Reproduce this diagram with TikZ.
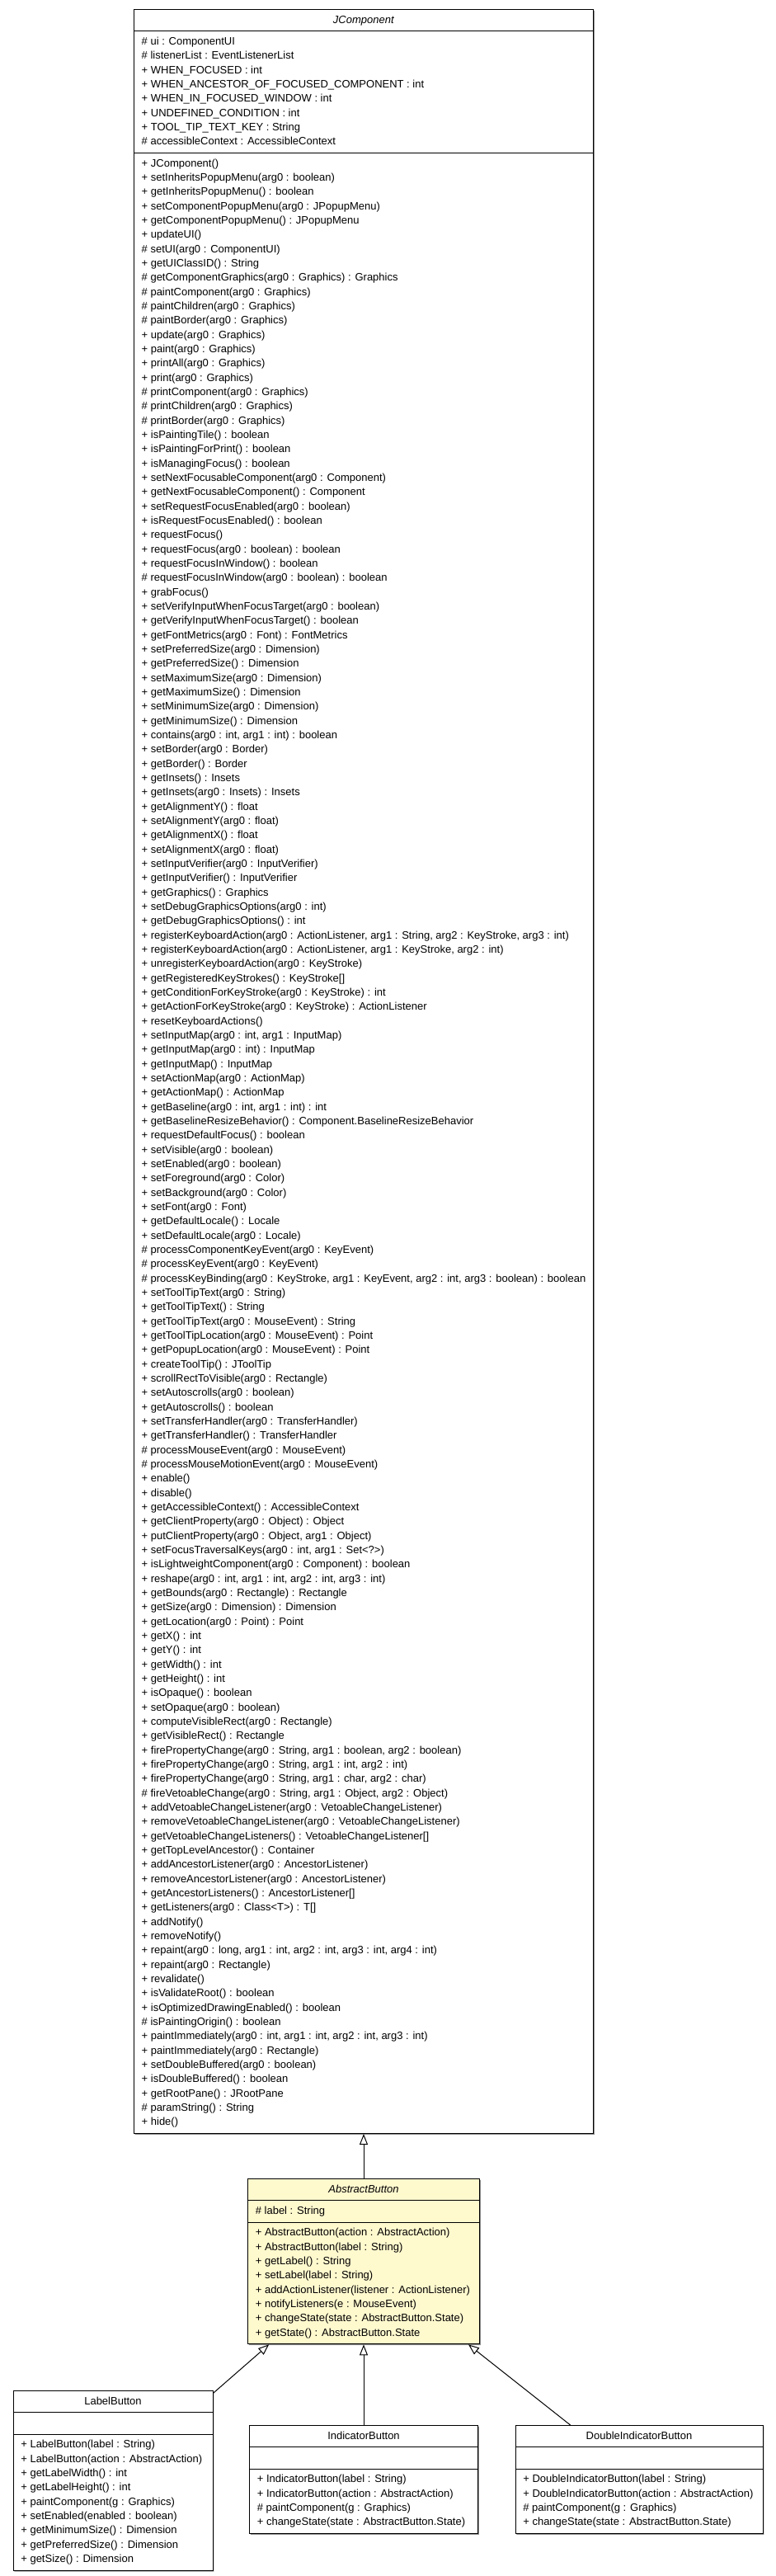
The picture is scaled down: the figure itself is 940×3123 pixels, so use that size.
\documentclass[tikz,border=0pt]{standalone}
\usepackage{fontspec}
\setmainfont{Liberation Sans}
\usetikzlibrary{shapes.multipart,arrows.meta,shadows}

\definecolor{abstractfill}{RGB}{255,249,206}

% one compartment of a class box, one member per row
\newcommand{\members}[1]{\begin{tabular}{@{}l@{}}#1\end{tabular}}

\tikzset{
  classbox/.style={rectangle split, rectangle split parts=3, draw, fill=white,
    line width=0.75pt, anchor=north,
    drop shadow={shadow xshift=1pt, shadow yshift=-1pt, fill=black!45, opacity=1},
    rectangle split part align={center,left,left},
    inner xsep=7pt, inner ysep=3pt, font=\fontsize{9.75}{13}\selectfont},
  inherit/.style={draw, line width=0.75pt, -{Triangle[open, length=9.75pt, width=7.5pt]}}
}

\begin{document}
\begin{tikzpicture}[x=0.75pt, y=-0.75pt]

      \useasboundingbox (0,0) rectangle (940,3123);

      \begin{scope}[every node/.style={classbox}]
        \node[minimum width=415.5pt] (jcomponent) at (441,11) {\strut\textit{JComponent}
          \nodepart{two}\members{\# ui : ComponentUI\\
          \# listenerList : EventListenerList\\
          + WHEN\_FOCUSED : int\\
          + WHEN\_ANCESTOR\_OF\_FOCUSED\_COMPONENT : int\\
          + WHEN\_IN\_FOCUSED\_WINDOW : int\\
          + UNDEFINED\_CONDITION : int\\
          + TOOL\_TIP\_TEXT\_KEY : String\\
          \# accessibleContext : AccessibleContext}
          \nodepart{three}\members{+ JComponent()\\
          + setInheritsPopupMenu(arg0 : boolean)\\
          + getInheritsPopupMenu() : boolean\\
          + setComponentPopupMenu(arg0 : JPopupMenu)\\
          + getComponentPopupMenu() : JPopupMenu\\
          + updateUI()\\
          \# setUI(arg0 : ComponentUI)\\
          + getUIClassID() : String\\
          \# getComponentGraphics(arg0 : Graphics) : Graphics\\
          \# paintComponent(arg0 : Graphics)\\
          \# paintChildren(arg0 : Graphics)\\
          \# paintBorder(arg0 : Graphics)\\
          + update(arg0 : Graphics)\\
          + paint(arg0 : Graphics)\\
          + printAll(arg0 : Graphics)\\
          + print(arg0 : Graphics)\\
          \# printComponent(arg0 : Graphics)\\
          \# printChildren(arg0 : Graphics)\\
          \# printBorder(arg0 : Graphics)\\
          + isPaintingTile() : boolean\\
          + isPaintingForPrint() : boolean\\
          + isManagingFocus() : boolean\\
          + setNextFocusableComponent(arg0 : Component)\\
          + getNextFocusableComponent() : Component\\
          + setRequestFocusEnabled(arg0 : boolean)\\
          + isRequestFocusEnabled() : boolean\\
          + requestFocus()\\
          + requestFocus(arg0 : boolean) : boolean\\
          + requestFocusInWindow() : boolean\\
          \# requestFocusInWindow(arg0 : boolean) : boolean\\
          + grabFocus()\\
          + setVerifyInputWhenFocusTarget(arg0 : boolean)\\
          + getVerifyInputWhenFocusTarget() : boolean\\
          + getFontMetrics(arg0 : Font) : FontMetrics\\
          + setPreferredSize(arg0 : Dimension)\\
          + getPreferredSize() : Dimension\\
          + setMaximumSize(arg0 : Dimension)\\
          + getMaximumSize() : Dimension\\
          + setMinimumSize(arg0 : Dimension)\\
          + getMinimumSize() : Dimension\\
          + contains(arg0 : int, arg1 : int) : boolean\\
          + setBorder(arg0 : Border)\\
          + getBorder() : Border\\
          + getInsets() : Insets\\
          + getInsets(arg0 : Insets) : Insets\\
          + getAlignmentY() : float\\
          + setAlignmentY(arg0 : float)\\
          + getAlignmentX() : float\\
          + setAlignmentX(arg0 : float)\\
          + setInputVerifier(arg0 : InputVerifier)\\
          + getInputVerifier() : InputVerifier\\
          + getGraphics() : Graphics\\
          + setDebugGraphicsOptions(arg0 : int)\\
          + getDebugGraphicsOptions() : int\\
          + registerKeyboardAction(arg0 : ActionListener, arg1 : String, arg2 : KeyStroke, arg3 : int)\\
          + registerKeyboardAction(arg0 : ActionListener, arg1 : KeyStroke, arg2 : int)\\
          + unregisterKeyboardAction(arg0 : KeyStroke)\\
          + getRegisteredKeyStrokes() : KeyStroke[]\\
          + getConditionForKeyStroke(arg0 : KeyStroke) : int\\
          + getActionForKeyStroke(arg0 : KeyStroke) : ActionListener\\
          + resetKeyboardActions()\\
          + setInputMap(arg0 : int, arg1 : InputMap)\\
          + getInputMap(arg0 : int) : InputMap\\
          + getInputMap() : InputMap\\
          + setActionMap(arg0 : ActionMap)\\
          + getActionMap() : ActionMap\\
          + getBaseline(arg0 : int, arg1 : int) : int\\
          + getBaselineResizeBehavior() : Component.BaselineResizeBehavior\\
          + requestDefaultFocus() : boolean\\
          + setVisible(arg0 : boolean)\\
          + setEnabled(arg0 : boolean)\\
          + setForeground(arg0 : Color)\\
          + setBackground(arg0 : Color)\\
          + setFont(arg0 : Font)\\
          + getDefaultLocale() : Locale\\
          + setDefaultLocale(arg0 : Locale)\\
          \# processComponentKeyEvent(arg0 : KeyEvent)\\
          \# processKeyEvent(arg0 : KeyEvent)\\
          \# processKeyBinding(arg0 : KeyStroke, arg1 : KeyEvent, arg2 : int, arg3 : boolean) : boolean\\
          + setToolTipText(arg0 : String)\\
          + getToolTipText() : String\\
          + getToolTipText(arg0 : MouseEvent) : String\\
          + getToolTipLocation(arg0 : MouseEvent) : Point\\
          + getPopupLocation(arg0 : MouseEvent) : Point\\
          + createToolTip() : JToolTip\\
          + scrollRectToVisible(arg0 : Rectangle)\\
          + setAutoscrolls(arg0 : boolean)\\
          + getAutoscrolls() : boolean\\
          + setTransferHandler(arg0 : TransferHandler)\\
          + getTransferHandler() : TransferHandler\\
          \# processMouseEvent(arg0 : MouseEvent)\\
          \# processMouseMotionEvent(arg0 : MouseEvent)\\
          + enable()\\
          + disable()\\
          + getAccessibleContext() : AccessibleContext\\
          + getClientProperty(arg0 : Object) : Object\\
          + putClientProperty(arg0 : Object, arg1 : Object)\\
          + setFocusTraversalKeys(arg0 : int, arg1 : Set<?>)\\
          + isLightweightComponent(arg0 : Component) : boolean\\
          + reshape(arg0 : int, arg1 : int, arg2 : int, arg3 : int)\\
          + getBounds(arg0 : Rectangle) : Rectangle\\
          + getSize(arg0 : Dimension) : Dimension\\
          + getLocation(arg0 : Point) : Point\\
          + getX() : int\\
          + getY() : int\\
          + getWidth() : int\\
          + getHeight() : int\\
          + isOpaque() : boolean\\
          + setOpaque(arg0 : boolean)\\
          + computeVisibleRect(arg0 : Rectangle)\\
          + getVisibleRect() : Rectangle\\
          + firePropertyChange(arg0 : String, arg1 : boolean, arg2 : boolean)\\
          + firePropertyChange(arg0 : String, arg1 : int, arg2 : int)\\
          + firePropertyChange(arg0 : String, arg1 : char, arg2 : char)\\
          \# fireVetoableChange(arg0 : String, arg1 : Object, arg2 : Object)\\
          + addVetoableChangeListener(arg0 : VetoableChangeListener)\\
          + removeVetoableChangeListener(arg0 : VetoableChangeListener)\\
          + getVetoableChangeListeners() : VetoableChangeListener[]\\
          + getTopLevelAncestor() : Container\\
          + addAncestorListener(arg0 : AncestorListener)\\
          + removeAncestorListener(arg0 : AncestorListener)\\
          + getAncestorListeners() : AncestorListener[]\\
          + getListeners(arg0 : Class<T>) : T[]\\
          + addNotify()\\
          + removeNotify()\\
          + repaint(arg0 : long, arg1 : int, arg2 : int, arg3 : int, arg4 : int)\\
          + repaint(arg0 : Rectangle)\\
          + revalidate()\\
          + isValidateRoot() : boolean\\
          + isOptimizedDrawingEnabled() : boolean\\
          \# isPaintingOrigin() : boolean\\
          + paintImmediately(arg0 : int, arg1 : int, arg2 : int, arg3 : int)\\
          + paintImmediately(arg0 : Rectangle)\\
          + setDoubleBuffered(arg0 : boolean)\\
          + isDoubleBuffered() : boolean\\
          + getRootPane() : JRootPane\\
          \# paramString() : String\\
          + hide()}};
        \node[minimum width=210.75pt, fill=abstractfill] (abstractbutton) at (441,2641) {\strut\textit{AbstractButton}
          \nodepart{two}\members{\# label : String}
          \nodepart{three}\members{+ AbstractButton(action : AbstractAction)\\
          + AbstractButton(label : String)\\
          + getLabel() : String\\
          + setLabel(label : String)\\
          + addActionListener(listener : ActionListener)\\
          + notifyListeners(e : MouseEvent)\\
          + changeState(state : AbstractButton.State)\\
          + getState() : AbstractButton.State}};
        \node[minimum width=181.5pt] (labelbutton) at (137,2898) {\strut LabelButton
          \nodepart{two}\strut
          \nodepart{three}\members{+ LabelButton(label : String)\\
          + LabelButton(action : AbstractAction)\\
          + getLabelWidth() : int\\
          + getLabelHeight() : int\\
          + paintComponent(g : Graphics)\\
          + setEnabled(enabled : boolean)\\
          + getMinimumSize() : Dimension\\
          + getPreferredSize() : Dimension\\
          + getSize() : Dimension}};
        \node[minimum width=207.75pt] (indicatorbutton) at (441,2940) {\strut IndicatorButton
          \nodepart{two}\strut
          \nodepart{three}\members{+ IndicatorButton(label : String)\\
          + IndicatorButton(action : AbstractAction)\\
          \# paintComponent(g : Graphics)\\
          + changeState(state : AbstractButton.State)}};
        \node[minimum width=225pt] (doubleindicatorbutton) at (775,2940) {\strut DoubleIndicatorButton
          \nodepart{two}\strut
          \nodepart{three}\members{+ DoubleIndicatorButton(label : String)\\
          + DoubleIndicatorButton(action : AbstractAction)\\
          \# paintComponent(g : Graphics)\\
          + changeState(state : AbstractButton.State)}};
      \end{scope}

      \begin{scope}[every edge/.style={inherit}]
        \path (abstractbutton) edge (jcomponent);
        \path (labelbutton) edge (abstractbutton);
        \path (indicatorbutton) edge (abstractbutton);
        \path (doubleindicatorbutton) edge (abstractbutton);
      \end{scope}

\end{tikzpicture}
\end{document}
